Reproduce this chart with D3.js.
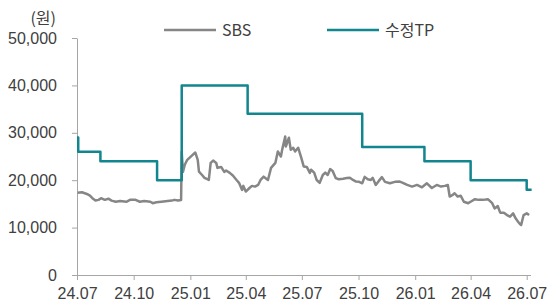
<!DOCTYPE html>
<html>
<head>
  <meta charset="utf-8">
  <style>
    body { margin: 0; background: #fff; }
    svg { display: block; font-family: "Noto Sans CJK KR", "Noto Sans", sans-serif; }
    .axis path, .axis line { stroke: #a6a6a6; }
    .axis text { font-size: 16px; fill: #404040; }
    .line { fill: none; stroke-width: 2.5px; stroke-linejoin: round; }
  </style>
</head>
<body>
  <svg width="549" height="306"></svg>
  <script src="https://d3js.org/d3.v7.min.js"></script>
  <script>

  // x-axis tick labels (quarter starts) and y ticks
  var xTickDates = ["2024-07-01", "2024-10-01", "2025-01-01", "2025-04-01", "2025-07-01",
                    "2025-10-01", "2026-01-01", "2026-04-01", "2026-07-01"];
  var xTickLabels = ["24.07", "24.10", "25.01", "25.04", "25.07", "25.10", "26.01", "26.04", "26.07"];
  var yTicks = [0, 10000, 20000, 30000, 40000, 50000];

  // 수정TP: target price changes (step)
  var tpDates  = ["2024-07-01", "2024-07-03", "2024-08-08", "2024-11-08", "2024-12-18",
                  "2025-04-04", "2025-10-07", "2026-01-16", "2026-04-01", "2026-07-01", "2026-07-09"];
  var tpValues = [29000, 26000, 24000, 20000, 40000, 34000, 27000, 24000, 20000, 18000, 18000];

  // SBS close price
  var sbsPrice = [
    ["2024-07-02", 17350], ["2024-07-09", 17450], ["2024-07-17", 17100], ["2024-07-22", 16750],
    ["2024-07-26", 16200], ["2024-07-31", 15700], ["2024-08-05", 15850], ["2024-08-09", 16200],
    ["2024-08-15", 15850], ["2024-08-21", 16100], ["2024-08-26", 15700], ["2024-09-02", 15450],
    ["2024-09-09", 15600], ["2024-09-19", 15450], ["2024-09-25", 15850], ["2024-10-04", 15850],
    ["2024-10-11", 15450], ["2024-10-18", 15600], ["2024-10-28", 15450], ["2024-11-01", 15150],
    ["2024-11-07", 15350], ["2024-11-15", 15450], ["2024-11-25", 15600], ["2024-12-02", 15700],
    ["2024-12-06", 15850], ["2024-12-12", 15700], ["2024-12-17", 15800], ["2024-12-18", 26000],
    ["2024-12-20", 21750], ["2024-12-23", 23250], ["2024-12-27", 24300], ["2025-01-03", 25150],
    ["2025-01-09", 25850], ["2025-01-13", 24300], ["2025-01-15", 21800], ["2025-01-20", 21100],
    ["2025-01-24", 20500], ["2025-01-31", 20050], ["2025-02-03", 23650], ["2025-02-07", 24150],
    ["2025-02-12", 23650], ["2025-02-14", 22600], ["2025-02-20", 22800], ["2025-02-25", 21750],
    ["2025-02-28", 22050], ["2025-03-06", 21550], ["2025-03-11", 21000], ["2025-03-17", 20050],
    ["2025-03-21", 19450], ["2025-03-26", 17950], ["2025-03-28", 18800], ["2025-04-01", 17600],
    ["2025-04-07", 18350], ["2025-04-11", 18800], ["2025-04-16", 18650], ["2025-04-21", 19000],
    ["2025-04-25", 20050], ["2025-04-30", 20750], ["2025-05-07", 20050], ["2025-05-12", 22600],
    ["2025-05-19", 23650], ["2025-05-23", 26050], ["2025-05-28", 25000], ["2025-05-30", 26400],
    ["2025-06-04", 29200], ["2025-06-05", 27100], ["2025-06-10", 28950], ["2025-06-13", 26400],
    ["2025-06-17", 26850], ["2025-06-20", 26050], ["2025-06-25", 26850], ["2025-06-30", 24750],
    ["2025-07-04", 22900], ["2025-07-09", 22800], ["2025-07-14", 21550], ["2025-07-16", 22200],
    ["2025-07-21", 21600], ["2025-07-25", 20050], ["2025-07-30", 19450], ["2025-08-04", 21100],
    ["2025-08-08", 21600], ["2025-08-12", 21100], ["2025-08-16", 22350], ["2025-08-20", 21950],
    ["2025-08-25", 20450], ["2025-08-30", 20200], ["2025-09-06", 20300], ["2025-09-12", 20450],
    ["2025-09-17", 20500], ["2025-09-22", 20050], ["2025-09-27", 19700], ["2025-10-02", 19650],
    ["2025-10-07", 19350], ["2025-10-11", 20700], ["2025-10-16", 20200], ["2025-10-21", 20050],
    ["2025-10-24", 20500], ["2025-10-29", 19000], ["2025-11-03", 19850], ["2025-11-08", 20650],
    ["2025-11-13", 19650], ["2025-11-21", 19350], ["2025-11-29", 19650], ["2025-12-07", 19700],
    ["2025-12-12", 19450], ["2025-12-19", 19000], ["2025-12-27", 18650], ["2026-01-04", 19000],
    ["2026-01-12", 18500], ["2026-01-20", 19350], ["2026-01-28", 18350], ["2026-02-05", 19000],
    ["2026-02-12", 18650], ["2026-02-18", 18800], ["2026-02-23", 19000], ["2026-02-26", 16550],
    ["2026-03-03", 16900], ["2026-03-06", 17250], ["2026-03-11", 16550], ["2026-03-16", 16700],
    ["2026-03-21", 15450], ["2026-03-28", 15150], ["2026-04-01", 15450], ["2026-04-08", 16000],
    ["2026-04-14", 15850], ["2026-04-21", 15850], ["2026-04-29", 16000], ["2026-05-06", 15150],
    ["2026-05-10", 14050], ["2026-05-15", 14550], ["2026-05-19", 13150], ["2026-05-25", 13150],
    ["2026-05-30", 12650], ["2026-06-04", 12300], ["2026-06-09", 13000], ["2026-06-13", 11950],
    ["2026-06-17", 11250], ["2026-06-20", 10750], ["2026-06-22", 10550], ["2026-06-24", 11600],
    ["2026-06-26", 12650], ["2026-07-01", 13000], ["2026-07-05", 12650]
  ];

  var parse = d3.timeParse("%Y-%m-%d");

  var svg = d3.select("svg"),
      margin = {top: 38, right: 18, bottom: 31, left: 77},
      width = svg.attr("width") - margin.left - margin.right,
      height = svg.attr("height") - margin.top - margin.bottom,
      g = svg.append("g").attr("transform", "translate(" + margin.left + "," + margin.top + ")");

  var x = d3.scaleTime()
      .domain([parse("2024-07-01"), parse("2026-07-08")])
      .range([0, width]);
  var y = d3.scaleLinear().domain([0, 50000]).range([height, 0]);

  var tickDates = xTickDates.map(parse);

  // x axis
  var xAxis = g.append("g")
    .attr("class", "axis axis--x")
    .attr("transform", "translate(0," + height + ")")
    .call(d3.axisBottom(x)
      .tickValues(tickDates)
      .tickFormat(function(d, i) { return xTickLabels[i]; })
      .tickSize(5)
      .tickSizeOuter(0)
      .tickPadding(8));
  // extend baseline to the left over the y tick
  xAxis.select(".domain").attr("d", "M-5,0.5H" + width);

  // y axis
  g.append("g")
    .attr("class", "axis axis--y")
    .call(d3.axisLeft(y)
      .tickValues(yTicks)
      .tickFormat(d3.format(","))
      .tickSize(5)
      .tickSizeOuter(0)
      .tickPadding(15));

  g.append("text")
    .attr("x", -21)
    .attr("y", -14)
    .attr("text-anchor", "end")
    .style("font-size", "16px")
    .attr("fill", "#404040")
    .text("(원)");

  var line = d3.line()
    .x(function(d) { return x(d.date); })
    .y(function(d) { return y(d.value); });

  var sbs = sbsPrice.map(function(d) { return {date: parse(d[0]), value: d[1]}; });
  var tp = tpDates.map(function(d, i) { return {date: parse(d), value: tpValues[i]}; });

  g.append("path")
    .datum(sbs)
    .attr("class", "line")
    .style("stroke", "#868686")
    .attr("d", line);

  g.append("path")
    .datum(tp)
    .attr("class", "line")
    .style("stroke", "#12868f")
    .attr("d", line.curve(d3.curveStepAfter));

  // legend
  var legend = [
    {name: "SBS", color: "#868686", x: 164},
    {name: "수정TP", color: "#12868f", x: 327}
  ];
  var lg = svg.selectAll(".legend")
    .data(legend)
    .enter().append("g")
    .attr("class", "legend")
    .attr("transform", function(d) { return "translate(" + d.x + ",30)"; });
  lg.append("line")
    .attr("x1", 0).attr("x2", 52)
    .attr("stroke", function(d) { return d.color; })
    .attr("stroke-width", 2.5);
  lg.append("text")
    .attr("x", 58)
    .attr("dy", "0.35em")
    .style("font-size", "16px")
    .attr("fill", "#404040")
    .text(function(d) { return d.name; });

  </script>
</body>
</html>
